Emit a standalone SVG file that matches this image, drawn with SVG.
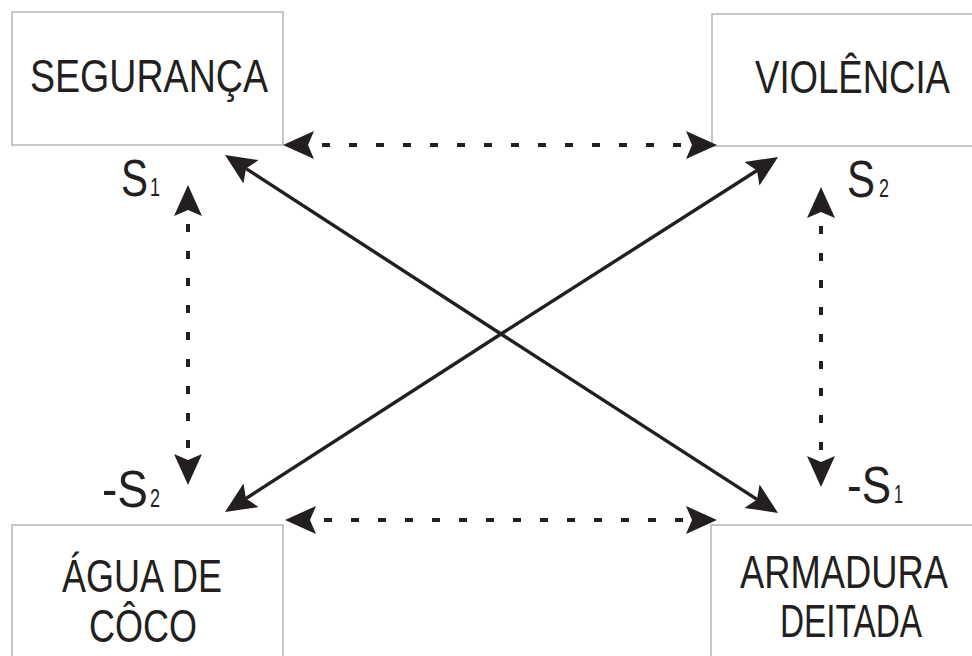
<svg xmlns="http://www.w3.org/2000/svg" width="972" height="656" viewBox="0 0 972 656">
<defs>
<style>
.box{fill:#fff;stroke:#b5b5b5;stroke-width:1.5}
.t{font-family:"Liberation Sans",Arial,sans-serif;font-size:46px;fill:#231f20}
.s{font-family:"Liberation Sans",Arial,sans-serif;font-size:51px;fill:#231f20}
.sub{font-family:"Liberation Sans",Arial,sans-serif;font-size:26px;fill:#231f20}
.dash{fill:none;stroke:#231f20;stroke-width:4;stroke-dasharray:8 19;marker-start:url(#ah);marker-end:url(#ah)}
.solid{fill:none;stroke:#231f20;stroke-width:3.4;marker-end:url(#ah)}
</style>
<marker id="ah" viewBox="0 -15 33 30" refX="6" refY="0" markerWidth="33" markerHeight="30" markerUnits="userSpaceOnUse" orient="auto-start-reverse">
<path d="M0,-14 L31,0 L0,14 L6,0 Z" fill="#231f20"/>
</marker>
</defs>
<rect width="972" height="656" fill="#fff"/>
<g id="seguranca">
<rect class="box" x="12" y="12" width="271" height="133"/>
<text class="t" x="30" y="92" textLength="238" lengthAdjust="spacingAndGlyphs">SEGURANÇA</text>
</g>
<g id="violencia">
<rect class="box" x="712" y="14" width="270" height="132"/>
<text class="t" x="755" y="93" textLength="195" lengthAdjust="spacingAndGlyphs">VIOLÊNCIA</text>
</g>
<g id="agua">
<rect class="box" x="12" y="525" width="271" height="140"/>
<text class="t" x="62" y="592" textLength="160" lengthAdjust="spacingAndGlyphs">ÁGUA DE</text>
<text class="t" x="89" y="642" textLength="108" lengthAdjust="spacingAndGlyphs">CÔCO</text>
</g>
<g id="armadura">
<rect class="box" x="711" y="525" width="275" height="140"/>
<text class="t" x="740" y="588" textLength="208" lengthAdjust="spacingAndGlyphs">ARMADURA</text>
<text class="t" x="780" y="637" textLength="142" lengthAdjust="spacingAndGlyphs">DEITADA</text>
</g>
<g id="labels">
<text class="s" x="121" y="196" textLength="27" lengthAdjust="spacingAndGlyphs">S</text>
<text class="sub" x="150" y="196" textLength="10" lengthAdjust="spacingAndGlyphs">1</text>
<text class="s" x="847" y="197" textLength="28" lengthAdjust="spacingAndGlyphs">S</text>
<text class="sub" x="879" y="197" textLength="10" lengthAdjust="spacingAndGlyphs">2</text>
<text class="s" x="102" y="507" textLength="46" lengthAdjust="spacingAndGlyphs">-S</text>
<text class="sub" x="150" y="507" textLength="10" lengthAdjust="spacingAndGlyphs">2</text>
<text class="s" x="847" y="503" textLength="44" lengthAdjust="spacingAndGlyphs">-S</text>
<text class="sub" x="894" y="503" textLength="9" lengthAdjust="spacingAndGlyphs">1</text>
</g>
<g id="connectors">
<line class="dash" x1="308" y1="145" x2="692" y2="145" stroke-dashoffset="-14"/>
<line class="dash" x1="310" y1="520" x2="692" y2="520" stroke-dashoffset="-14"/>
<line class="dash" x1="188" y1="210" x2="188" y2="460" stroke-dashoffset="-14"/>
<line class="dash" x1="821" y1="212" x2="821" y2="462" stroke-dashoffset="-14"/>
<line class="solid" x1="501" y1="334" x2="246" y2="168.6"/>
<line class="solid" x1="501" y1="334" x2="757" y2="499.4"/>
<line class="solid" x1="501" y1="334" x2="757" y2="170.5"/>
<line class="solid" x1="501" y1="334" x2="246" y2="498.5"/>
</g>
</svg>
